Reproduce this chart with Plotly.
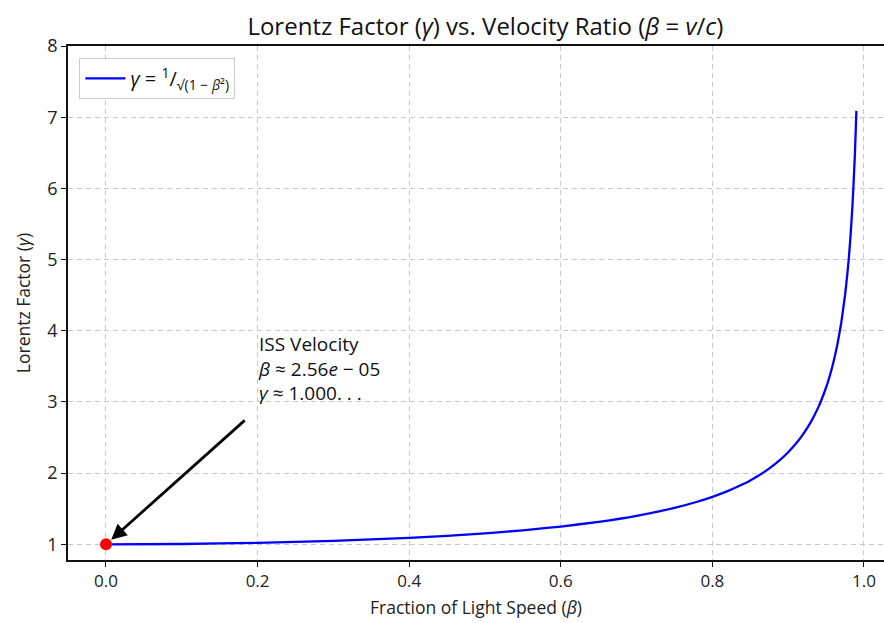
import plotly.graph_objects as go

# Values
beta = [0.0, 0.1, 0.2, 0.3, 0.4, 0.45, 0.5, 0.55, 0.6, 0.65, 0.7, 0.75, 0.78,
        0.8, 0.82, 0.84, 0.85, 0.86, 0.87, 0.88, 0.89, 0.9, 0.91, 0.92, 0.93,
        0.94, 0.95, 0.955, 0.96, 0.965, 0.97, 0.975, 0.978, 0.98, 0.982,
        0.985, 0.988, 0.99]
gamma = [1.0, 1.005, 1.021, 1.048, 1.091, 1.120, 1.155, 1.197, 1.25, 1.316,
         1.400, 1.512, 1.598, 1.667, 1.747, 1.843, 1.898, 1.960, 2.028, 2.105,
         2.193, 2.294, 2.412, 2.552, 2.721, 2.931, 3.203, 3.372, 3.571, 3.813,
         4.113, 4.500, 4.794, 5.025, 5.294, 5.795, 6.474, 7.089]

iss_beta = [2.56e-05]
iss_gamma = [1.0]

x_ticks = [0.0, 0.2, 0.4, 0.6, 0.8, 1.0]
y_ticks = [1, 2, 3, 4, 5, 6, 7, 8]

FONT = "Open Sans"
GRID_DASH = "5px,4px"

fig = go.Figure()
fig.add_trace(go.Scatter(
    x=beta, y=gamma, mode="lines",
    line=dict(color="#0000ff", width=2.3, shape="spline", smoothing=0.4),
    name="<i>γ</i> = <sup>1</sup>/<sub>√(1 − <i>β</i>²)</sub>",
))
fig.add_trace(go.Scatter(
    x=iss_beta, y=iss_gamma, mode="markers",
    marker=dict(color="#ff0000", size=12),
    showlegend=False,
))

# arrow
fig.add_annotation(
    x=iss_beta[0], y=iss_gamma[0], ax=0.185, ay=2.76,
    xref="x", yref="y", axref="x", ayref="y",
    text="", showarrow=True, arrowhead=2, arrowsize=1.1, arrowwidth=2.8,
    arrowcolor="black", standoff=7,
)
# text
fig.add_annotation(
    x=0.198, y=2.92, xref="x", yref="y",
    xanchor="left", yanchor="bottom", align="left", showarrow=False,
    text="ISS Velocity<br><i>β</i> ≈ 2.56<i>e</i> − 05<br><i>γ</i> ≈ 1.000. . .",
    font=dict(family=FONT, size=19, color="#111111"),
)

fig.update_layout(
    width=884, height=623,
    margin=dict(l=68, r=0, t=46, b=63),
    paper_bgcolor="white", plot_bgcolor="white",
    font=dict(family=FONT, color="#222222"),
    title=dict(
        text="Lorentz Factor (<i>γ</i>) vs. Velocity Ratio (<i>β</i> = <i>v</i>/<i>c</i>)",
        x=0.549, xanchor="center", y=0.958, yanchor="middle",
        font=dict(family=FONT, size=24, color="#111111"),
    ),
    legend=dict(
        x=0.014, y=0.977, xanchor="left", yanchor="top",
        bgcolor="rgba(255,255,255,0.9)", bordercolor="#cccccc", borderwidth=1,
        font=dict(family=FONT, size=20, color="#111111"),
        itemwidth=40,
    ),
    showlegend=True,
)
fig.update_xaxes(
    range=[-0.0501, 1.0264], tickvals=x_ticks,
    ticktext=[f"{v:.1f}" for v in x_ticks],
    showline=True, linecolor="#111111", linewidth=1.5, mirror=True,
    ticks="outside", ticklen=5, tickcolor="#111111",
    showgrid=True, gridcolor="#c8c8c8", griddash=GRID_DASH, gridwidth=1,
    zeroline=False,
    tickfont=dict(family=FONT, size=17, color="#222222"),
    title=dict(text="Fraction of Light Speed (<i>β</i>)",
               font=dict(family=FONT, size=17.5, color="#222222"), standoff=11),
)
fig.update_yaxes(
    range=[0.78, 8.0], tickvals=y_ticks,
    showline=True, linecolor="#111111", linewidth=1.5, mirror=False,
    ticks="outside", ticklen=5, tickcolor="#111111",
    showgrid=True, gridcolor="#c8c8c8", griddash=GRID_DASH, gridwidth=1,
    zeroline=False,
    tickfont=dict(family=FONT, size=18, color="#222222"),
    title=dict(text="Lorentz Factor (<i>γ</i>)",
               font=dict(family=FONT, size=17.5, color="#222222"), standoff=12),
)

fig.write_html("out.html")
